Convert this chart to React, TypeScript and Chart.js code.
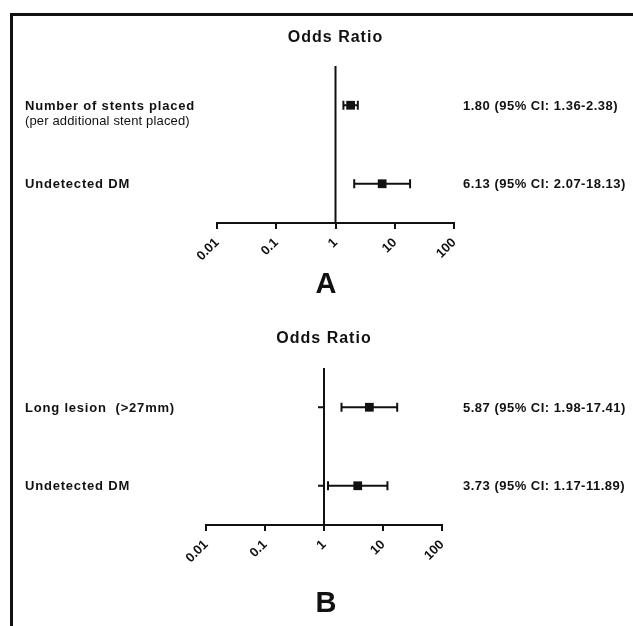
import React, { useEffect, useRef } from "react";
import { Chart, registerables } from "chart.js";

Chart.register(...registerables);

// ---------- data ----------
const xTicks = [0.01, 0.1, 1, 10, 100];
const xTickLabels = ["0.01", "0.1", "1", "10", "100"];
const titleText = "Odds Ratio";

const aLabels = ["Number of stents placed", "Undetected DM"];
const aSubLabels = ["(per additional stent placed)", ""];
const aOR = [1.8, 6.13];
const aLow = [1.36, 2.07];
const aHigh = [2.38, 18.13];

const bLabels = ["Long lesion  (>27mm)", "Undetected DM"];
const bSubLabels = ["", ""];
const bOR = [5.87, 3.73];
const bLow = [1.98, 1.17];
const bHigh = [17.41, 11.89];

const FONT = "'Liberation Sans', Arial, Helvetica, sans-serif";
const INK = "#111111";

type PanelProps = {
  top: number;
  height: number;
  padding: { left: number; right: number; top: number; bottom: number };
  labels: string[];
  subLabels: string[];
  or: number[];
  low: number[];
  high: number[];
  letter: string;
  letterPos: { x: number; y: number };
  titleY: number;
  rowTicks: boolean;
};

function fmt(v: number) {
  return v.toFixed(2);
}

function Panel(p: PanelProps) {
  const ref = useRef<HTMLCanvasElement | null>(null);

  useEffect(() => {
    if (!ref.current) return;
    const rows = p.or.map((_, i) => i + 1);

    const forestPlugin = {
      id: "forestDecor",
      beforeDatasetsDraw(chart: any) {
        if (!p.rowTicks) return;
        const ctx = chart.ctx;
        const xs = chart.scales.x;
        const ys = chart.scales.y;
        const x1 = xs.getPixelForValue(1);
        ctx.save();
        ctx.strokeStyle = INK;
        ctx.lineWidth = 2;
        rows.forEach((r) => {
          const y = ys.getPixelForValue(r);
          ctx.beginPath();
          ctx.moveTo(x1 - 6, y);
          ctx.lineTo(x1, y);
          ctx.stroke();
        });
        ctx.restore();
      },
      afterDraw(chart: any) {
        const ctx = chart.ctx;
        const xs = chart.scales.x;
        const ys = chart.scales.y;
        const x1 = xs.getPixelForValue(1);
        ctx.save();
        ctx.fillStyle = INK;
        ctx.textBaseline = "middle";

        // title
        ctx.font = `bold 16px ${FONT}`;
        (ctx as any).letterSpacing = "1px";
        ctx.textAlign = "center";
        ctx.fillText(titleText, x1, p.titleY);

        // row labels
        ctx.textAlign = "left";
        rows.forEach((r, i) => {
          const y = ys.getPixelForValue(r);
          ctx.font = `bold 13px ${FONT}`;
          (ctx as any).letterSpacing = "0.8px";
          ctx.fillText(p.labels[i], 25, y + 1);
          if (p.subLabels[i]) {
            ctx.font = `13px ${FONT}`;
            (ctx as any).letterSpacing = "0.15px";
            ctx.fillText(p.subLabels[i], 25, y + 16);
          }
          ctx.font = `bold 13px ${FONT}`;
          (ctx as any).letterSpacing = "0.5px";
          ctx.fillText(
            `${fmt(p.or[i])} (95% CI: ${fmt(p.low[i])}-${fmt(p.high[i])})`,
            463,
            y + 1
          );
        });

        // panel letter
        ctx.font = `bold 29px ${FONT}`;
        (ctx as any).letterSpacing = "0px";
        ctx.textAlign = "center";
        ctx.fillText(p.letter, p.letterPos.x, p.letterPos.y);
        ctx.restore();
      },
    };

    const refLine = {
      data: [
        { x: 1, y: 0.5 },
        { x: 1, y: 2.5 },
      ],
      showLine: true,
      borderColor: INK,
      borderWidth: 2,
      pointRadius: 0,
    };

    const errorBars = rows.map((r, i) => ({
      data: [
        { x: p.low[i], y: r },
        { x: p.high[i], y: r },
      ],
      showLine: true,
      borderColor: INK,
      borderWidth: 2,
      pointStyle: "line",
      pointRotation: 90,
      pointRadius: 4.5,
      pointBorderWidth: 2,
      pointBorderColor: INK,
      pointBackgroundColor: INK,
    }));

    const points = {
      data: rows.map((r, i) => ({ x: p.or[i], y: r })),
      pointStyle: "rect",
      pointRadius: 6.2,
      pointBackgroundColor: INK,
      pointBorderColor: INK,
      pointBorderWidth: 0,
    };

    const chart = new Chart(ref.current, {
      type: "scatter",
      data: { datasets: [refLine, ...errorBars, points] as any },
      options: {
        responsive: false,
        animation: false,
        devicePixelRatio: 1,
        events: [],
        layout: { padding: p.padding },
        plugins: {
          legend: { display: false },
          tooltip: { enabled: false },
        },
        scales: {
          x: {
            type: "logarithmic",
            position: "bottom",
            min: 0.01,
            max: 100,
            afterBuildTicks: (s: any) => {
              s.ticks = xTicks.map((v) => ({ value: v }));
            },
            afterFit: (s: any) => {
              s.height = 40;
            },
            border: { display: true, color: INK, width: 2 },
            grid: {
              display: true,
              drawOnChartArea: false,
              drawTicks: true,
              tickLength: 6,
              color: INK,
              lineWidth: 2,
            },
            ticks: {
              autoSkip: false,
              maxRotation: 45,
              minRotation: 45,
              padding: 6,
              color: INK,
              font: { family: FONT, size: 13, weight: "bold" },
              callback: (_v: any, i: number) => xTickLabels[i],
            },
          } as any,
          y: {
            type: "linear",
            min: 0.5,
            max: 2.5,
            reverse: true,
            display: false,
          },
        },
      },
      plugins: [forestPlugin as any],
    });
    return () => chart.destroy();
  }, []);

  return (
    <canvas
      ref={ref}
      width={633}
      height={p.height}
      style={{
        position: "absolute",
        left: 0,
        top: p.top,
        width: 633,
        height: p.height,
        display: "block",
      }}
    />
  );
}

export default function App() {
  return (
    <div
      style={{
        position: "fixed",
        left: 0,
        top: 0,
        width: 633,
        height: 626,
        background: "#ffffff",
        overflow: "hidden",
      }}
    >
      <Panel
        top={0}
        height={313}
        padding={{ left: 217, right: 179, top: 66, bottom: 50 }}
        labels={aLabels}
        subLabels={aSubLabels}
        or={aOR}
        low={aLow}
        high={aHigh}
        letter="A"
        letterPos={{ x: 326, y: 285 }}
        titleY={38}
        rowTicks={false}
      />
      <Panel
        top={313}
        height={313}
        padding={{ left: 206, right: 191, top: 55, bottom: 61 }}
        labels={bLabels}
        subLabels={bSubLabels}
        or={bOR}
        low={bLow}
        high={bHigh}
        letter="B"
        letterPos={{ x: 326, y: 291 }}
        titleY={26}
        rowTicks={true}
      />
      <div
        style={{
          position: "absolute",
          left: 10,
          top: 13,
          right: 0,
          height: 3,
          background: "#111",
        }}
      />
      <div
        style={{
          position: "absolute",
          left: 10,
          top: 13,
          bottom: 0,
          width: 3,
          background: "#111",
        }}
      />
    </div>
  );
}
